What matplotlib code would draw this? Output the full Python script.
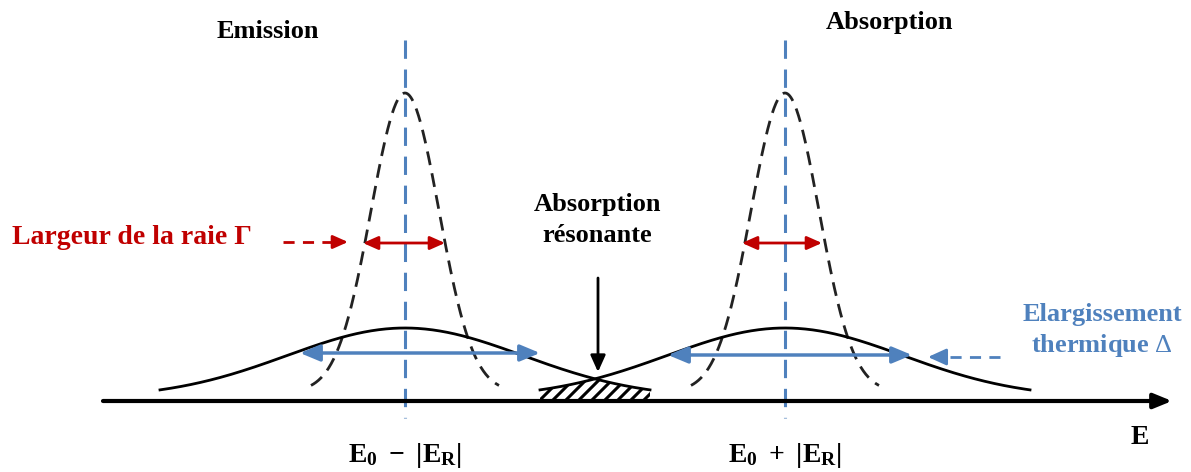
import numpy as np
import matplotlib
matplotlib.use("Agg")
import matplotlib.pyplot as plt

# Diagram values (pixel frame of the 1191x472 picture, y grows downward)
line_centers = [405, 785]          # E0 - |ER| and E0 + |ER|
line_labels = [r"$\mathbf{E_0\ -\ |E_R|}$", r"$\mathbf{E_0\ +\ |E_R|}$"]
top_titles = ["Emission", "Absorption"]
title_x = [268, 890]
title_y = [32, 22]

narrow_sigma = 34                  # natural line width
narrow_top = 93
narrow_base = 392
narrow_extent = 94

broad_sigma = 118                  # thermal broadening
broad_top = 328
broad_base = 398
broad_extent = 245

red_span = [(363, 445), (742, 822)]
red_y = 243
thermal_span = [(300, 540), (668, 912)]
thermal_y = [353, 355]
hatch_step = 13

axis_y = 401
axis_x = [103, 1172]
red = "#c00000"
blue = "#4f81bd"

plt.rcParams['font.family'] = ['Liberation Serif', 'DejaVu Serif']
plt.rcParams['mathtext.fontset'] = 'custom'
plt.rcParams['mathtext.bf'] = 'Liberation Serif:bold'
plt.rcParams['mathtext.rm'] = 'Liberation Serif'
plt.rcParams['mathtext.it'] = 'Liberation Serif:italic:bold'

fig = plt.figure(figsize=(11.91, 4.72), dpi=100)
ax = fig.add_axes([0, 0, 1, 1])
ax.set_xlim(0, 1191)
ax.set_ylim(472, 0)
ax.axis('off')


def gauss(x, c, s, top, base):
    return base - (base - top) * np.exp(-0.5 * ((x - c) / s) ** 2)


def arrow(x0, y0, x1, y1, color, lw, style):
    ax.annotate("", xy=(x1, y1), xytext=(x0, y0),
                arrowprops=dict(arrowstyle=style, color=color, lw=lw,
                                shrinkA=0, shrinkB=0))


def dashed_arrow(x0, y, x1, color, lw, style):
    # dashed shaft + solid head
    d = np.sign(x1 - x0)
    ax.plot([x0, x1 - d * 12], [y, y], color=color, lw=lw, dashes=(4, 3))
    arrow(x1 - d * 14, y, x1, y, color, lw, style)


for c in line_centers:
    # vertical guide
    ax.plot([c, c], [40, 418], color=blue, lw=2.2, dashes=(6, 3.5))
    # narrow line
    xn = np.linspace(c - narrow_extent, c + narrow_extent, 300)
    ax.plot(xn, gauss(xn, c, narrow_sigma, narrow_top, narrow_base),
            color="#222222", lw=2.0, dashes=(5, 3))
    # broad line
    xb = np.linspace(c - broad_extent, c + broad_extent, 400)
    ax.plot(xb, gauss(xb, c, broad_sigma, broad_top, broad_base), color="black", lw=2.0)

# hatched overlap (resonant absorption)
xo = np.linspace(line_centers[1] - broad_extent, line_centers[0] + broad_extent, 200)
y1 = gauss(xo, line_centers[0], broad_sigma, broad_top, broad_base)
y2 = gauss(xo, line_centers[1], broad_sigma, broad_top, broad_base)
region = ax.fill_between(xo, np.maximum(y1, y2), axis_y, facecolor="none", lw=0)
clip = region.get_paths()[0]
for x0 in np.arange(xo[0] - 40, xo[-1] + 40, hatch_step):
    hl, = ax.plot([x0, x0 + 45], [axis_y, axis_y - 45], color="black", lw=2.2)
    hl.set_clip_path(clip, transform=ax.transData)

# energy axis
arrow(axis_x[0], axis_y, axis_x[1], axis_y, "black", 3,
      "-|>,head_length=1.1,head_width=0.45")
ax.text(1140, 437, "E", fontsize=20, fontweight="bold", ha="center", va="center")

for c, lab in zip(line_centers, line_labels):
    ax.text(c, 455, lab, fontsize=20, ha="center", va="center")
for tx, ty, t in zip(title_x, title_y, top_titles):
    ax.text(tx, ty, t, fontsize=19, fontweight="bold", ha="center", va="center")

# natural width arrows (red)
for x0, x1 in red_span:
    arrow(x0, red_y, x1, red_y, red, 2, "<|-|>,head_length=0.9,head_width=0.4")
ax.text(12, 238, "Largeur de la raie Γ", fontsize=20, fontweight="bold",
        color=red, ha="left", va="center")
dashed_arrow(283, 242, 348, red, 2, "-|>,head_length=0.9,head_width=0.4")

# thermal broadening arrows (blue)
for (x0, x1), ty in zip(thermal_span, thermal_y):
    arrow(x0, ty, x1, ty, blue, 2.5, "<|-|>,head_length=1.2,head_width=0.5")
ax.text(1102, 331, "Elargissement\nthermique $\\mathit{\\Delta}$", fontsize=19,
        fontweight="bold", color=blue, ha="center", va="center", linespacing=1.3)
dashed_arrow(1000, 357, 928, blue, 2, "-|>,head_length=1.1,head_width=0.5")

# resonant absorption
ax.text(597, 220, "Absorption\nrésonante", fontsize=19, fontweight="bold",
        ha="center", va="center", linespacing=1.45)
arrow(598, 278, 598, 372, "black", 2, "-|>,head_length=1.0,head_width=0.45")

fig.savefig("out.png", dpi=100)
